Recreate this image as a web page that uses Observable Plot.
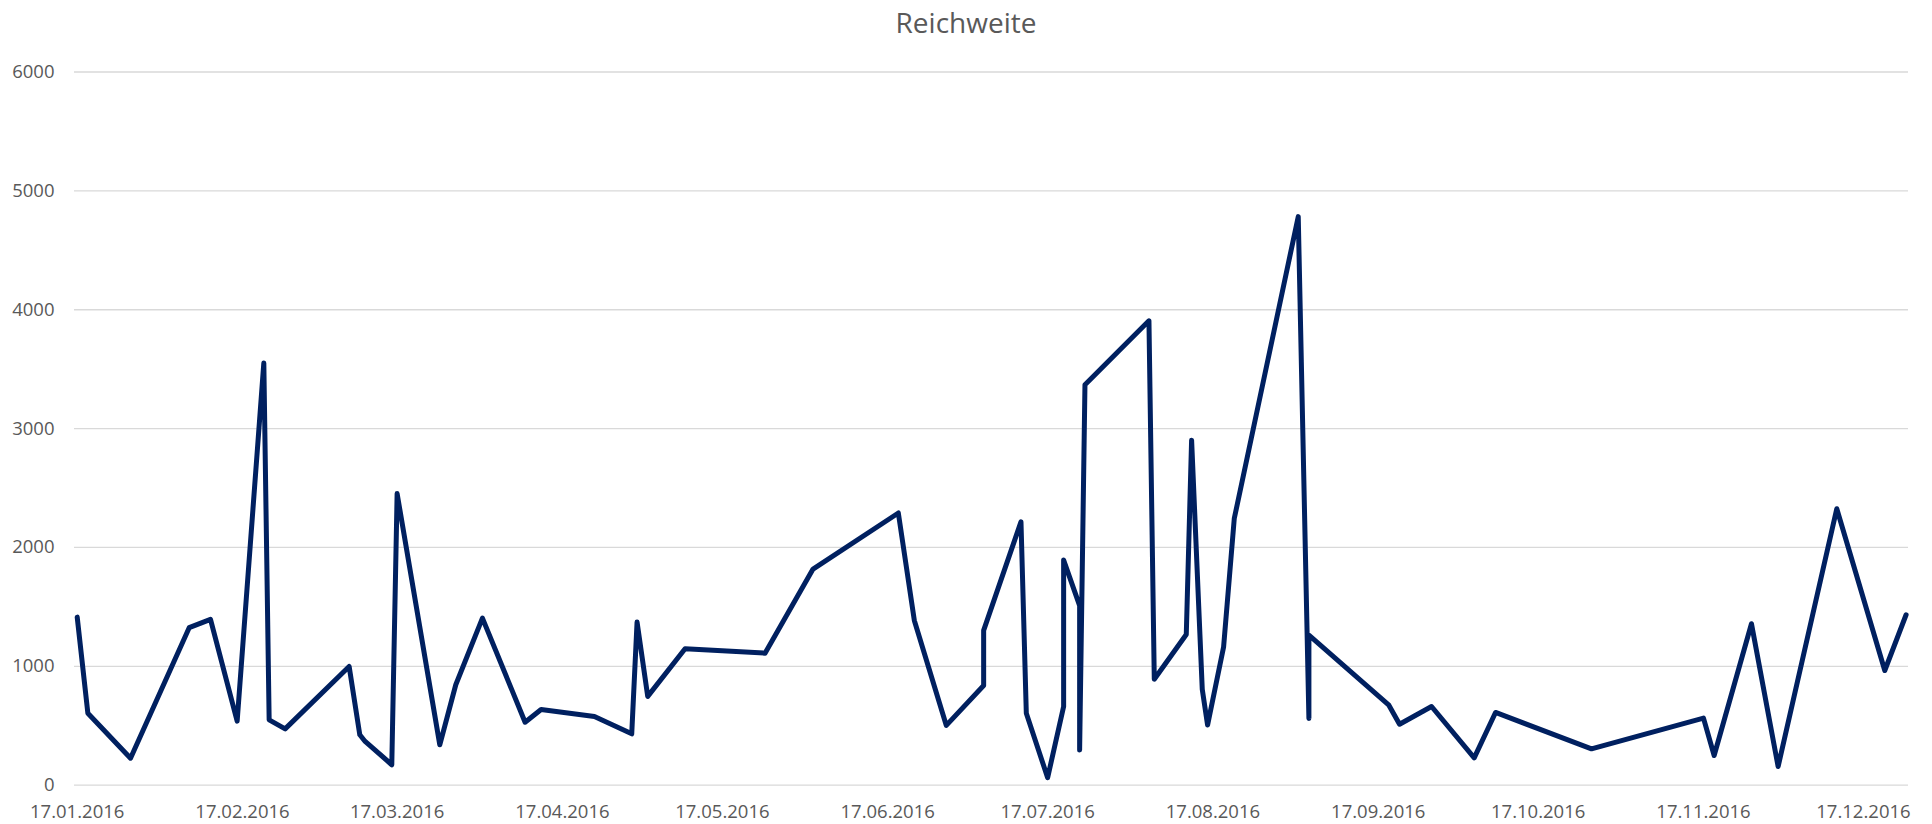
<!DOCTYPE html>
<html>
<head>
<meta charset="utf-8">
<script src="https://cdn.jsdelivr.net/npm/d3@7"></script>
<script src="https://cdn.jsdelivr.net/npm/@observablehq/plot@0.6"></script>
<style>
  html, body { margin: 0; padding: 0; background: #ffffff; }
  #title {
    height: 44px; box-sizing: border-box; padding-top: 8px;
    font-family: "Open Sans", sans-serif; font-size: 28px; line-height: 28px;
    color: #595959; text-align: center; width: 1932px; padding-left: 0;
  }
  #chart svg { display: block; }
</style>
</head>
<body>
<div id="title">Reichweite</div>
<div id="chart"></div>
<script>
// Dates of each post (dd.mm.2016)
const dates = [
  "2016-01-17","2016-01-19","2016-01-27","2016-02-07","2016-02-11","2016-02-16",
  "2016-02-21","2016-02-22","2016-02-25","2016-03-08","2016-03-10","2016-03-11",
  "2016-03-16","2016-03-17","2016-03-25","2016-03-28","2016-04-02","2016-04-10",
  "2016-04-13","2016-04-23","2016-04-30","2016-05-01","2016-05-03","2016-05-10",
  "2016-05-25","2016-06-03","2016-06-19","2016-06-22","2016-06-28","2016-07-05",
  "2016-07-05","2016-07-12","2016-07-13","2016-07-17","2016-07-20","2016-07-20",
  "2016-07-23","2016-07-23","2016-07-24","2016-08-05","2016-08-06","2016-08-12",
  "2016-08-13","2016-08-15","2016-08-16","2016-08-19","2016-08-21","2016-09-02",
  "2016-09-04","2016-09-04","2016-09-19","2016-09-21","2016-09-27","2016-10-05",
  "2016-10-09","2016-10-27","2016-11-17","2016-11-19","2016-11-26","2016-12-01",
  "2016-12-12","2016-12-21","2016-12-25"
];
// Reichweite (reach) values
const reach = [
  1414, 606, 227, 1325, 1395, 539,
  3552, 550, 474, 999, 424, 368,
  172, 2453, 340, 845, 1406, 530,
  637, 578, 432, 1372, 747, 1148,
  1111, 1818, 2290, 1386, 503, 839,
  1302, 2216, 606, 63, 662, 1894,
  1511, 296, 3369, 3907, 892, 1268,
  2903, 806, 506, 1162, 2243, 4783,
  562, 1262, 673, 513, 662, 230,
  612, 306, 564, 250, 1358, 157,
  2326, 965, 1434
];
// Axis ticks
const xTickDates = [
  "2016-01-17","2016-02-17","2016-03-17","2016-04-17","2016-05-17","2016-06-17",
  "2016-07-17","2016-08-17","2016-09-17","2016-10-17","2016-11-17","2016-12-17"
];
const yTicks = [0, 1000, 2000, 3000, 4000, 5000, 6000];

const data = dates.map((d, i) => ({date: new Date(d), value: reach[i]}));
const fmt = d3.utcFormat("%d.%m.%Y");

const chart = Plot.plot({
  width: 1932,
  height: 780,
  marginLeft: 74,
  marginRight: 24,
  marginTop: 27.5,
  marginBottom: 39.3,
  style: {
    fontFamily: "'Open Sans', sans-serif",
    fontSize: "18.5px",
    color: "#595959",
    background: "#ffffff"
  },
  x: {
    type: "utc",
    domain: [new Date(dates[0]), new Date(dates[dates.length - 1])],
    insetLeft: 2.7,
    insetRight: 2.4
  },
  y: {
    domain: [0, 6000]
  },
  marks: [
    Plot.gridY(yTicks, {stroke: "#d9d9d9", strokeOpacity: 1, strokeWidth: 1.3}),
    Plot.axisY(yTicks, {
      tickSize: 0, tickPadding: 20, tickFormat: d => String(d),
      label: null, fill: "#595959"
    }),
    Plot.axisX(xTickDates.map(d => new Date(d)), {
      tickSize: 0, tickPadding: 20, tickFormat: fmt,
      label: null, fill: "#595959"
    }),
    Plot.line(data, {
      x: "date", y: "value",
      stroke: "#002060", strokeWidth: 5,
      strokeLinejoin: "round", strokeLinecap: "round"
    })
  ]
});
document.getElementById("chart").appendChild(chart);
</script>
</body>
</html>
